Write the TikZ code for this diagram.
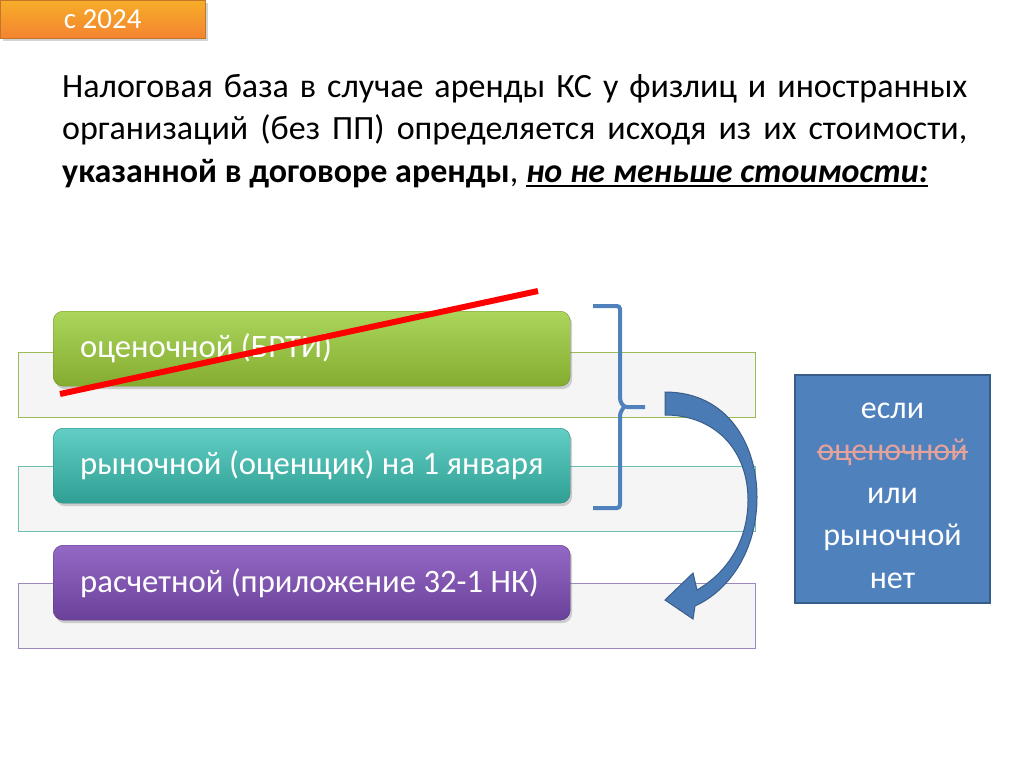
\documentclass[tikz,border=0pt]{standalone}
\usepackage{fontspec}
\setmainfont{Carlito}
\usepackage{xcolor}
\usetikzlibrary{shadows}

\definecolor{tagorange}{HTML}{F39236}
\definecolor{stripgray}{HTML}{F5F5F5}
\definecolor{greenedge}{HTML}{9BBB59}
\definecolor{tealedge}{HTML}{6BBFAE}
\definecolor{purpedge}{HTML}{9A88BE}
\definecolor{greentop}{HTML}{ABD65C}
\definecolor{greenbot}{HTML}{84AC30}
\definecolor{tealtop}{HTML}{62CEC5}
\definecolor{tealbot}{HTML}{2F9F93}
\definecolor{purptop}{HTML}{9469C6}
\definecolor{purpbot}{HTML}{6A4199}
\definecolor{boxblue}{HTML}{4F81BD}
\definecolor{boxedge}{HTML}{385D8A}
\definecolor{strikepink}{HTML}{E3A29C}

\newcommand{\undertxt}[1]{\setbox0\hbox{#1}\rlap{\rule[-5pt]{\wd0}{2pt}}\box0}
\newcommand{\striketxt}[1]{\setbox0\hbox{#1}\rlap{\rule[8pt]{\wd0}{1.5pt}}\box0}

\begin{document}
\begin{tikzpicture}[x=1pt, y=-1pt,
  every node/.style={font=\fontsize{32}{42}\selectfont},
  strip/.style={draw, fill=stripgray, line width=1pt, anchor=north west, minimum width=737pt, minimum height=65pt, inner sep=0pt},
  bar/.style={rounded corners=10pt, anchor=north west, minimum width=517pt, minimum height=75pt, inner sep=0pt, text=white, font=\fontsize{32.7}{40}\selectfont, drop shadow={opacity=0.35, shadow xshift=2pt, shadow yshift=-3pt}},
  tag/.style={draw=tagorange!80!black, top color=tagorange!75!yellow, bottom color=tagorange!90!red, text=white, minimum width=205pt, minimum height=38pt, inner sep=0pt, drop shadow={opacity=0.35, shadow xshift=3pt, shadow yshift=-3pt}}
]
\useasboundingbox (0,0) rectangle (1024,767);

% background strips
\node[strip, draw=greenedge] (s1) at (18,352) {};
\node[strip, draw=tealedge] (s2) at (18,466) {};
\node[strip, draw=purpedge] (s3) at (18,583) {};

% value kinds
\node[bar, draw=greenbot!85!black, top color=greentop, bottom color=greenbot] (kad) at (53,311) {\makebox[463pt][l]{оценочной (БРТИ)}};
\node[bar, draw=tealbot!85!black, top color=tealtop, bottom color=tealbot] (mkt) at (53,428) {\makebox[463pt][l]{рыночной (оценщик) на 1 января}};
\node[bar, draw=purpbot!85!black, top color=purptop, bottom color=purpbot] (calc) at (53,545) {\makebox[463pt][l]{расчетной (приложение 32-1 НК)}};

% crossed out
\coordinate (x1) at (60,394);
\coordinate (x2) at (538,291);
\draw[red, line width=6pt] (x1) -- (x2);

% bracket
\draw[boxblue, line width=4pt, rounded corners=3pt]
  (593,306) -| (620,401) -- (624,407) -- (645,407);
\draw[boxblue, line width=4pt, rounded corners=3pt]
  (624,407) -- (620,413) |- (593,508);

% curved arrow
\filldraw[fill=boxblue!95!black, draw=boxedge, line width=1pt]
  (665,392) .. controls (728,392) and (757,445) .. (757,497)
  .. controls (757,550) and (730,590) .. (695,606)
  -- (693,619) -- (665,600) -- (693,573) -- (697,590)
  .. controls (728,572) and (748,540) .. (748,500)
  .. controls (748,450) and (715,415) .. (665,415) -- cycle;

% condition
\node[draw=boxedge, fill=boxblue, line width=1.5pt, text=white, align=center, minimum width=195pt, minimum height=228pt, inner sep=0pt, font=\fontsize{32}{42.5}\selectfont] (cond) at (892.5,489)
  {\rule{0pt}{29pt}если\\{\color{strikepink}\striketxt{оценочной}}\\или\\рыночной\\нет};

% heading
\node[anchor=north west, inner sep=0pt, text width=905pt, align=justify, font=\fontsize{34}{42.5}\selectfont] (head) at (62,74)
  {Налоговая база в случае аренды КС у физлиц и иностранных\linebreak
   организаций (без ПП) определяется исходя из их стоимости,\linebreak
   \textbf{указанной в договоре аренды}, \undertxt{\textbf{\textit{но не меньше стоимости:}}}};

% date tag
\node[tag, anchor=north west] (year) at (0,0) {\fontsize{29}{31}\selectfont с 2024};
\end{tikzpicture}
\end{document}
